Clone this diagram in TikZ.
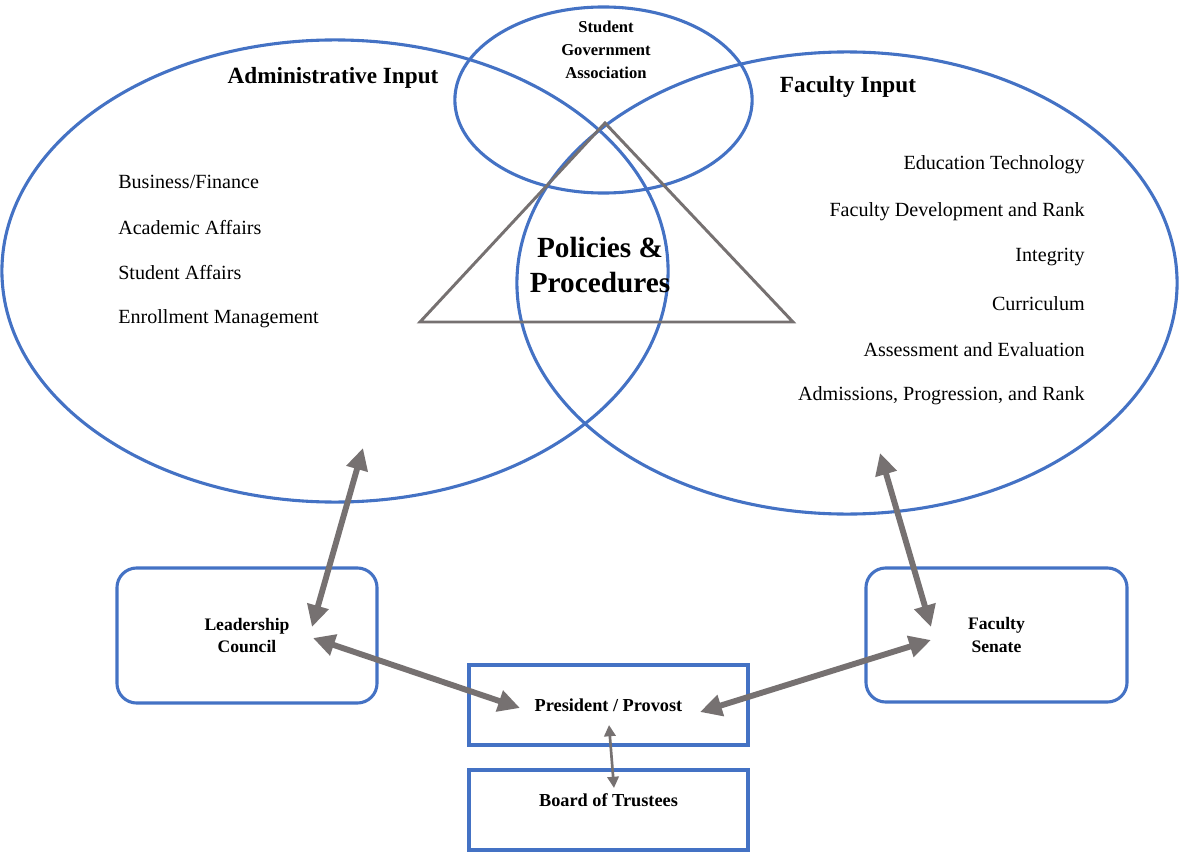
\documentclass[tikz,border=0pt]{standalone}
\usepackage{fontspec}
\setmainfont{Liberation Serif}
\usetikzlibrary{arrows.meta,shapes.geometric}

\definecolor{ringblue}{HTML}{4472C4}
\definecolor{linkgray}{HTML}{767171}

\tikzset{
  ring/.style={ellipse,draw=ringblue,line width=2.2pt,inner sep=0pt,outer sep=0pt},
  unitbox/.style={draw=ringblue,line width=2.2pt,align=center,font=\bfseries\fontsize{12.5}{16.3}\selectfont},
  link/.style={draw=linkgray,line width=4.2pt,{Triangle[length=15.5pt,width=15pt]}-{Triangle[length=15.5pt,width=15pt]}},
  thinlink/.style={draw=linkgray,line width=1.9pt,{Triangle[length=8pt,width=8pt]}-{Triangle[length=8pt,width=8pt]}},
  listitem/.style={font=\fontsize{14.3}{17}\selectfont,inner sep=0pt},
  heading/.style={font=\bfseries\fontsize{16.5}{20}\selectfont}
}

\begin{document}
\begin{tikzpicture}[x=0.025cm,y=-0.025cm]
  \useasboundingbox (0,0) rectangle (1179,854);

  % the three input circles
  \node[ring,minimum width=16.65cm,minimum height=11.55cm] (adm) at (335,271) {};
  \node[ring,minimum width=16.5cm,minimum height=11.55cm] (fac) at (847,283) {};
  \node[ring,minimum width=7.43cm,minimum height=4.65cm] (sga) at (603.5,100) {};

  % policies triangle
  \draw[linkgray,line width=2.1pt,line join=miter] (420,322) -- (605,123) -- (793,322) -- cycle;
  \node[font=\bfseries\fontsize{20.8}{24.8}\selectfont,align=center] (pp) at (600,265) {Policies \&\\Procedures};

  \node[font=\bfseries\fontsize{11.8}{16.3}\selectfont,align=center] (sgalabel) at (606,50) {Student\\Government\\Association};
  \node[heading] (admhead) at (333,78) {Administrative Input};
  \node[heading] (fachead) at (848,87) {Faculty Input};

  % lists
  \foreach \txt [count=\i] in {Business/Finance,Academic Affairs,Student Affairs,Enrollment Management}
    \node[listitem,anchor=west] (adm\i) at (118,{182+45.5*(\i-1)}) {\txt};
  \foreach \txt [count=\i] in {Education Technology,Faculty Development and Rank,Integrity,Curriculum,Assessment and Evaluation,{Admissions, Progression, and Rank}}
    \node[listitem,anchor=east] (fac\i) at (1085,{165+46.2*(\i-1)}) {\txt};

  % bodies
  \node[unitbox,rounded corners=14pt,minimum width=6.5cm,minimum height=3.375cm] (lc) at (247,635.5) {Leadership\\Council};
  \node[unitbox,rounded corners=14pt,minimum width=6.525cm,minimum height=3.35cm] (fs) at (996.5,635) {Faculty\\Senate};
  \node[unitbox,font=\bfseries\fontsize{13}{16}\selectfont,minimum width=6.975cm,minimum height=2cm] (prov) at (608.5,705) {President / Provost};
  \node[unitbox,font=\bfseries\fontsize{13}{16}\selectfont,text depth=14.5pt,minimum width=6.975cm,minimum height=2cm] (bot) at (608.5,810) {Board of Trustees};

  % arrow ends
  \coordinate (admtip) at (363,448);
  \coordinate (lctop) at (312,627);
  \coordinate (lcside) at (313,638);
  \coordinate (provleft) at (520,708);
  \coordinate (provright) at (700,712);
  \coordinate (fsside) at (931,640);
  \coordinate (factip) at (880,453);
  \coordinate (fstop) at (931,627);
  \coordinate (provlow) at (609,725);
  \coordinate (botup) at (614,788);

  \draw[link] (admtip) -- (lctop);
  \draw[link] (lcside) -- (provleft);
  \draw[link] (provright) -- (fsside);
  \draw[link] (factip) -- (fstop);
  \draw[thinlink] (provlow) -- (botup);
\end{tikzpicture}
\end{document}
